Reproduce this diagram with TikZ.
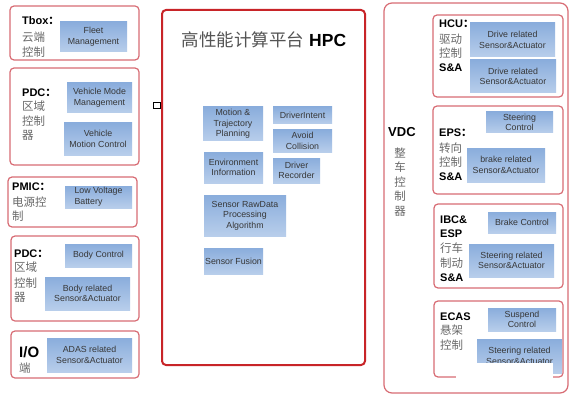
\documentclass[tikz,border=0pt]{standalone}
\usepackage{fontspec}
\setmainfont{Liberation Sans}
\newfontfamily\cjk{Noto Sans CJK SC}
\definecolor{pinkred}{RGB}{216,108,116}
\definecolor{hpcred}{RGB}{200,36,40}
\definecolor{blueTop}{RGB}{138,173,220}
\definecolor{blueBot}{RGB}{184,206,235}
\definecolor{txtgray}{RGB}{55,55,55}
\definecolor{zhgray}{RGB}{105,105,105}
% box from (x1,y1) to (x2,y2) as a named node
\newcommand{\blkbox}[7][]{\node[blk,#1,minimum width={(#5-#3)*1pt},minimum height={(#6-#4)*1pt}] (#2) at ({(#3+#5)/2},{(#4+#6)/2}) {#7};}
\newcommand{\outbox}[6][]{\node[outer,#1,minimum width={(#5-#3)*1pt},minimum height={(#6-#4)*1pt}] (#2) at ({(#3+#5)/2},{(#4+#6)/2}) {};}
\begin{document}
\begin{tikzpicture}[x=1pt,y=-1pt,
  outer/.style={draw=pinkred, line width=1.2pt, rounded corners=4pt, inner sep=0pt},
  blk/.style={top color=blueTop, bottom color=blueBot, draw=none, inner sep=0pt, align=center,
     font=\fontsize{8.8}{10.6}\selectfont, text=txtgray},
  lat/.style={font=\fontsize{11}{13}\selectfont\bfseries, anchor=base west, inner sep=0pt},
  zh/.style={font=\fontsize{11.5}{13}\selectfont\cjk, text=zhgray, anchor=base west, inner sep=0pt}]
\useasboundingbox (0,0) rectangle (585,406);
\fill[white] (0,0) rectangle (585,406);
% ---------- left column ----------
\outbox{tbox}{10}{6}{139}{60}
\blkbox{fleet}{60}{22}{127}{52}{Fleet\\Management}
\node[lat] (tboxL) at (22,25) {Tbox{\cjk ：}};
\node[zh] (tboxA) at (22,41.5) {云端};
\node[zh] (tboxB) at (22,56.5) {控制};

\outbox{pdc1}{10}{68}{139}{165}
\blkbox{vmm}{67}{83}{132}{113}{Vehicle Mode\\Management}
\blkbox{vmc}{64}{123}{132}{155}{Vehicle\\Motion Control}
\node[lat] (pdcL) at (22,97) {PDC{\cjk ：}};
\node[zh] (pdcA) at (22,110.5) {区域};
\node[zh] (pdcB) at (22,125.5) {控制};
\node[zh] (pdcC) at (22,139.5) {器};

\outbox{pmic}{8}{177}{137}{227}
\blkbox[align=left]{lvb}{65}{186}{132}{208}{Low Voltage\\Battery}
\node[lat] (pmicL) at (12,190) {PMIC{\cjk ：}};
\node[zh] (pmicA) at (12,206.5) {电源控};
\node[zh] (pmicB) at (12,220.5) {制};

\outbox{pdc2}{11}{236}{139}{321}
\blkbox{bc}{65}{244}{132}{267}{Body Control}
\blkbox{brs}{45}{277}{130}{310}{Body related\\Sensor\&Actuator}
\node[lat] (pdc2L) at (14,257) {PDC{\cjk ：}};
\node[zh] (pdc2A) at (14,271.5) {区域};
\node[zh] (pdc2B) at (14,287.5) {控制};
\node[zh] (pdc2C) at (14,301.5) {器};

\outbox{io}{11}{331}{139}{378}
\blkbox{adas}{47}{338}{132}{372}{ADAS related\\Sensor\&Actuator}
\node[lat, font=\fontsize{15}{17}\selectfont\bfseries] (ioL) at (19,357) {I/O};
\node[zh] (ioA) at (19,372.5) {端};

% small square
\node[draw=black, line width=0.6pt, fill=white, inner sep=0pt, minimum width=7pt, minimum height=6pt] (sq) at (156.5,105) {};

% ---------- HPC ----------
\outbox[draw=hpcred, line width=2pt]{hpc}{162}{10}{365}{365}
\node[anchor=base, inner sep=0pt, font=\fontsize{17.5}{20}\selectfont] (hpcT) at (264,47)
  {{\cjk\color{zhgray!80!black}高性能计算平台} \textbf{HPC}};
\blkbox{mtp}{203}{107}{263}{141}{Motion \&\\Trajectory\\Planning}
\blkbox{di}{273}{107}{332}{124}{DriverIntent}
\blkbox{ac}{273}{130}{332}{152}{Avoid\\Collision}
\blkbox{ei}{204}{152}{263}{183}{Environment\\Information}
\blkbox{dr}{273}{158}{320}{183}{Driver\\Recorder}
\blkbox{srp}{204}{195}{286}{236}{Sensor RawData\\Processing\\Algorithm}
\blkbox{sf}{204}{248}{263}{274}{Sensor Fusion}

% ---------- VDC ----------
\outbox[rounded corners=8pt]{vdc}{384}{3}{568}{393}
\node[lat, font=\fontsize{13}{15}\selectfont\bfseries] (vdcL) at (388,137) {VDC};
\foreach \c/\yy [count=\i] in {整/157.5,车/171.5,控/186.5,制/200.5,器/215.5}
  \node[zh, anchor=base] (vdcZ\i) at (400,\yy) {\c};

\outbox{hcu}{433}{15}{563}{97}
\blkbox{drs1}{470}{23}{555}{57}{Drive related\\Sensor\&Actuator}
\blkbox{drs2}{470}{60}{556}{93}{Drive related\\Sensor\&Actuator}
\node[lat] (hcuL) at (439,28) {HCU{\cjk ：}};
\node[zh] (hcuA) at (439,43.5) {驱动};
\node[zh] (hcuB) at (439,57.5) {控制};
\node[lat] (hcuC) at (439,72) {S\&A};

\outbox{eps}{433}{106}{563}{194}
\blkbox{sc}{486}{112}{553}{133}{Steering\\Control}
\blkbox{brk}{467}{148}{545}{182}{brake related\\Sensor\&Actuator}
\node[lat] (epsL) at (439,137) {EPS{\cjk ：}};
\node[zh] (epsA) at (439,152.5) {转向};
\node[zh] (epsB) at (439,166.5) {控制};
\node[lat] (epsC) at (439,180) {S\&A};

\outbox{ibc}{434}{204}{563}{288}
\blkbox{bkc}{488}{212}{556}{233}{Brake Control}
\blkbox{srs}{469}{244}{554}{277}{Steering related\\Sensor\&Actuator}
\node[lat] (ibcL) at (440,223) {IBC\&};
\node[lat] (ibcM) at (440,237) {ESP};
\node[zh] (ibcA) at (440,252.5) {行车};
\node[zh] (ibcB) at (440,267.5) {制动};
\node[lat] (ibcC) at (440,281) {S\&A};

\outbox{ecas}{434}{301}{563}{377}
\blkbox{spc}{488}{308}{556}{331}{Suspend\\Control}
\blkbox{srs2}{477}{339}{562}{373}{Steering related\\Sensor\&Actuator}
\node[lat] (ecasL) at (440,320) {ECAS};
\node[zh] (ecasA) at (440,334.5) {悬架};
\node[zh] (ecasB) at (440,349.5) {控制};
% white patch over the bottom of the ECAS box
\fill[white] (456,363) rectangle (553,380);
\end{tikzpicture}
\end{document}
